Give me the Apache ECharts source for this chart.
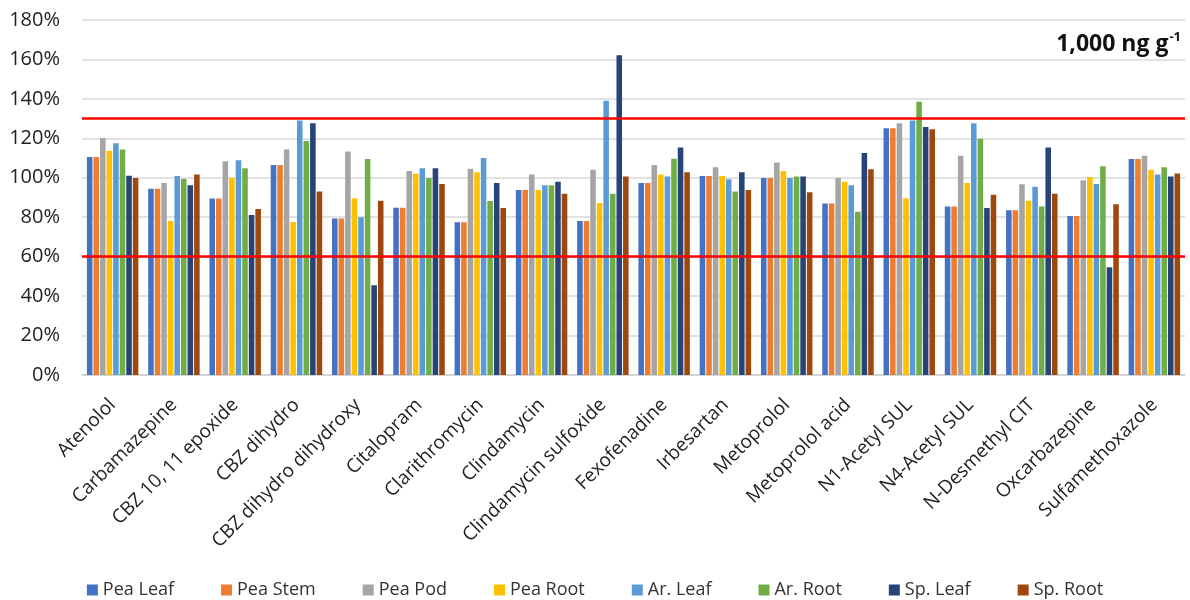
<!DOCTYPE html>
<html>
<head>
<meta charset="utf-8">
<style>
  html, body { margin: 0; padding: 0; background: #fff; }
  #chart { width: 1190px; height: 600px; }
</style>
<script src="https://cdn.jsdelivr.net/npm/echarts@6/dist/echarts.min.js"></script>
</head>
<body>
<div id="chart"></div>
<script>
// Compounds on the x axis
const compounds = ['Atenolol', 'Carbamazepine', 'CBZ 10, 11 epoxide', 'CBZ dihydro',
  'CBZ dihydro dihydroxy', 'Citalopram', 'Clarithromycin', 'Clindamycin',
  'Clindamycin sulfoxide', 'Fexofenadine', 'Irbesartan', 'Metoprolol',
  'Metoprolol acid', 'N1-Acetyl SUL', 'N4-Acetyl SUL', 'N-Desmethyl CIT',
  'Oxcarbazepine', 'Sulfamethoxazole'];

// Recovery (%) per tissue, one value per compound
const peaLeaf = [110.5, 94.5, 89.5, 106.5, 79.3, 84.8, 77.4, 93.8, 78.1, 97.4, 100.9, 99.9, 87.0, 125.1, 85.4, 83.5, 80.6, 109.5];
const peaStem = [110.5, 94.5, 89.5, 106.5, 79.3, 84.8, 77.4, 93.8, 78.1, 97.4, 100.9, 99.9, 87.0, 125.1, 85.4, 83.5, 80.6, 109.5];
const peaPod  = [120.2, 97.4, 108.4, 114.4, 113.3, 103.4, 104.6, 101.6, 104.1, 106.5, 105.3, 107.7, 99.9, 127.6, 111.2, 96.7, 98.7, 111.2];
const peaRoot = [113.7, 78.1, 99.9, 77.6, 89.6, 102.1, 102.8, 93.8, 87.2, 101.6, 100.9, 103.4, 98.0, 89.6, 97.4, 88.4, 100.4, 104.1];
const arLeaf  = [117.5, 100.9, 108.9, 129.0, 80.0, 104.8, 110.0, 96.2, 139.1, 100.6, 99.2, 99.9, 96.2, 129.0, 127.6, 95.5, 96.9, 101.6];
const arRoot  = [114.4, 99.4, 104.8, 118.7, 109.5, 99.9, 88.2, 96.2, 91.9, 109.7, 93.1, 100.6, 82.8, 138.6, 119.8, 85.4, 105.8, 105.3];
const spLeaf  = [101.0, 96.2, 81.1, 127.6, 45.5, 104.8, 97.4, 98.0, 162.1, 115.4, 102.8, 100.6, 112.6, 125.8, 84.7, 115.4, 54.6, 100.6];
const spRoot  = [99.9, 101.6, 84.2, 93.1, 88.4, 96.9, 84.7, 91.9, 100.6, 102.8, 93.8, 92.6, 104.3, 124.6, 91.4, 91.9, 86.6, 102.2];

const seriesNames = ['Pea Leaf', 'Pea Stem', 'Pea Pod', 'Pea Root', 'Ar. Leaf', 'Ar. Root', 'Sp. Leaf', 'Sp. Root'];
const seriesValues = [peaLeaf, peaStem, peaPod, peaRoot, arLeaf, arRoot, spLeaf, spRoot];
const palette = ['#4472C4', '#ED7D31', '#A5A5A5', '#FFC000', '#5B9BD5', '#70AD47', '#264478', '#9E480E'];

// Acceptance limits (%)
const limits = [60, 130];

const font = '"Open Sans", "Noto Sans", sans-serif';

const series = seriesNames.map((name, i) => ({
  name: name,
  type: 'bar',
  data: seriesValues[i],
  barGap: '18%',
  barCategoryGap: '16%',
  itemStyle: { color: palette[i] },
  emphasis: { disabled: true }
}));

series[0].markLine = {
  silent: true,
  symbol: 'none',
  label: { show: false },
  lineStyle: { color: '#FF0000', width: 2.5, type: 'solid' },
  data: limits.map(v => ({ yAxis: v }))
};

const chart = echarts.init(document.getElementById('chart'), null, { renderer: 'canvas' });
chart.setOption({
  animation: false,
  color: palette,
  title: {
    text: '{t|1,000 ng g}{s|-1}',
    right: 4,
    top: 26,
    textStyle: {
      rich: {
        t: { fontFamily: font, fontWeight: 'bold', fontSize: 23, color: '#111' },
        s: { fontFamily: font, fontWeight: 'bold', fontSize: 13, color: '#111', verticalAlign: 'top', padding: [0, 0, 13, 1] }
      }
    }
  },
  legend: {
    top: 576,
    left: 'center',
    itemWidth: 11,
    itemHeight: 11,
    itemGap: 47,
    icon: 'rect',
    textStyle: { fontFamily: font, fontSize: 18, color: '#333' },
    data: seriesNames
  },
  grid: { left: 82, right: 5, top: 20, bottom: 225, containLabel: false },
  xAxis: {
    type: 'category',
    data: compounds,
    axisLine: { lineStyle: { color: '#d0d0d0', width: 1.5 } },
    axisTick: { show: false },
    axisLabel: {
      rotate: 45,
      interval: 0,
      margin: 27,
      fontFamily: font,
      fontSize: 19,
      color: '#222'
    }
  },
  yAxis: {
    type: 'value',
    min: 0,
    max: 180,
    interval: 20,
    axisLine: { show: false },
    axisTick: { show: false },
    splitLine: { lineStyle: { color: '#d9d9d9', width: 1.5 } },
    axisLabel: {
      formatter: '{value}%',
      fontFamily: font,
      fontSize: 20,
      color: '#222',
      margin: 22
    }
  },
  series: series
});
</script>
</body>
</html>
